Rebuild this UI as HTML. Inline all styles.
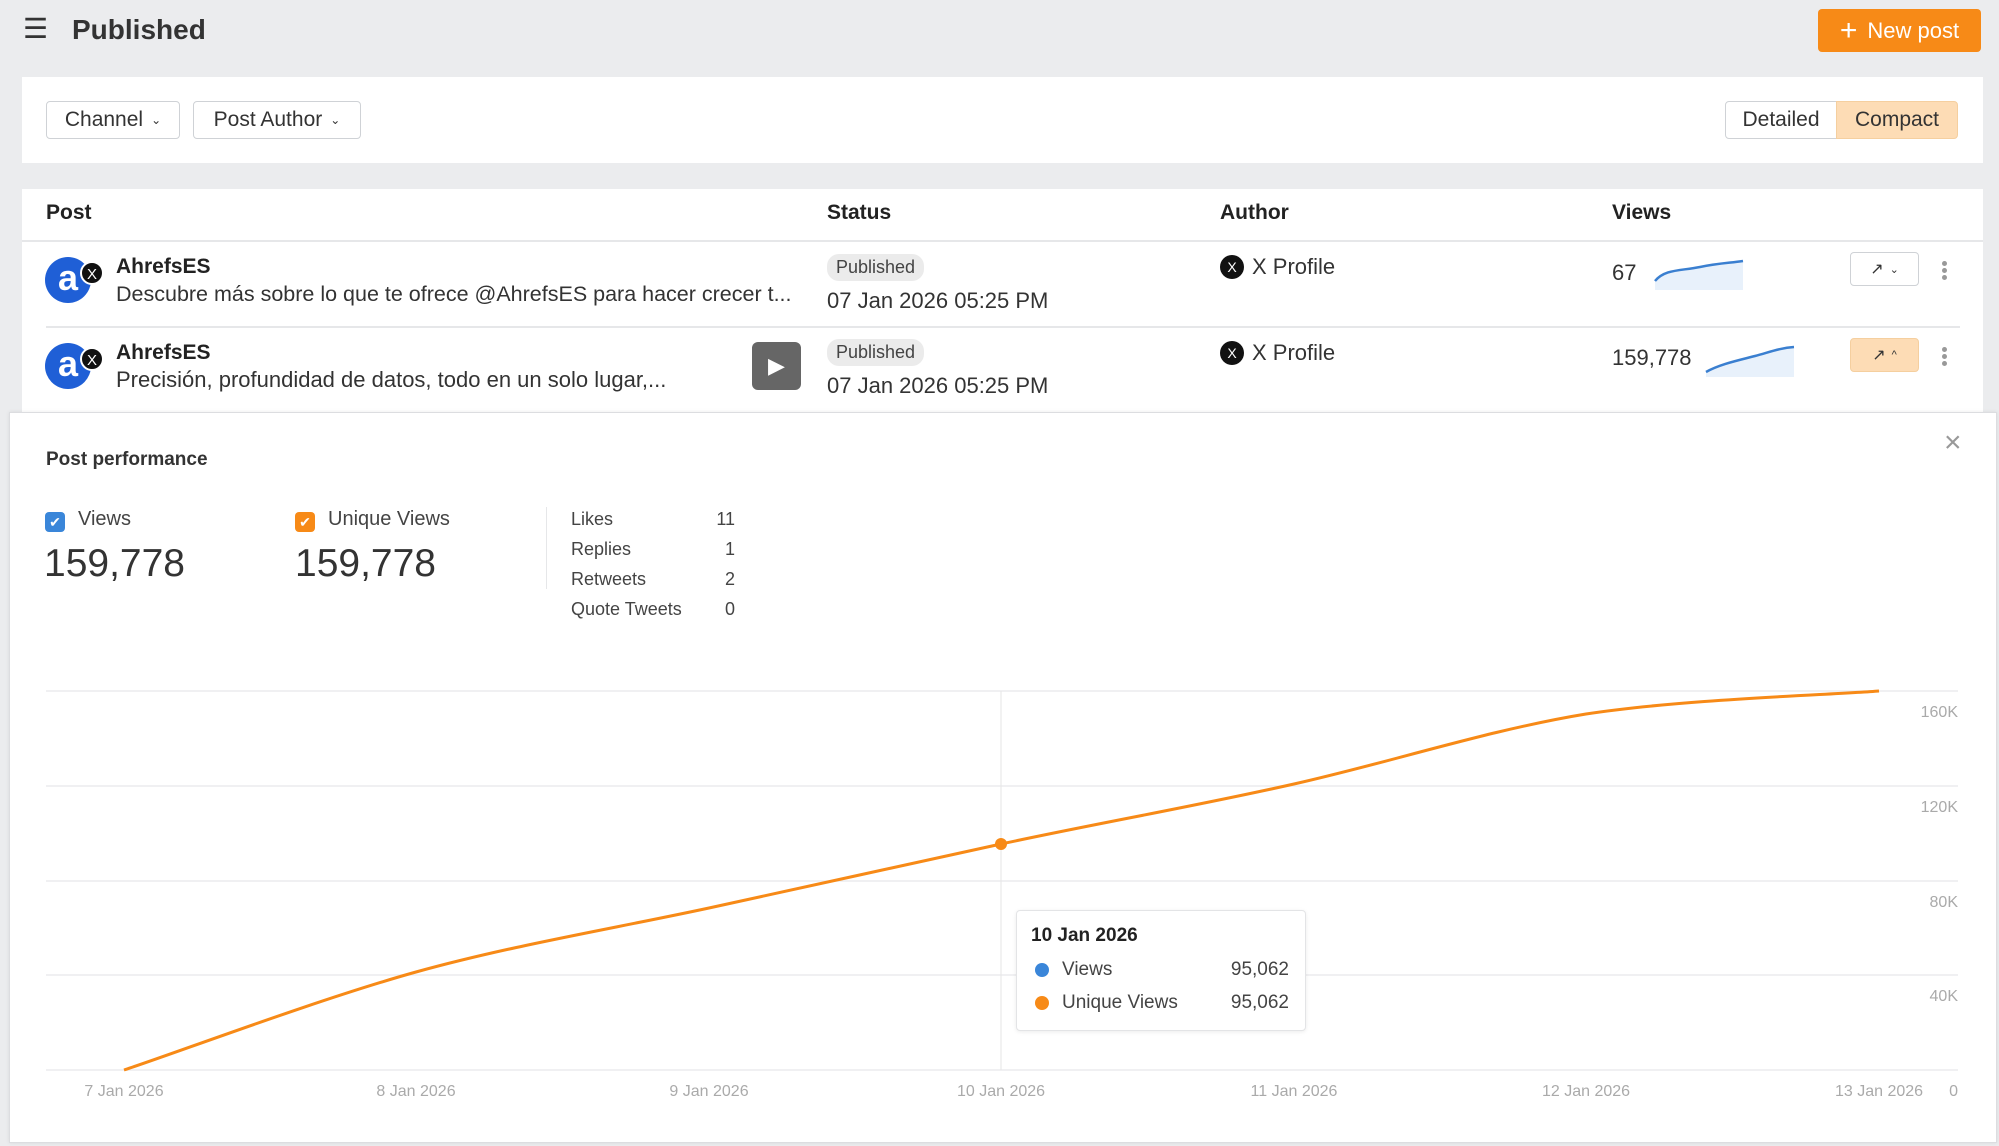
<!DOCTYPE html>
<html><head><meta charset="utf-8"><style>
*{margin:0;padding:0;box-sizing:border-box}
body{width:1999px;height:1146px;background:#ebecee;font-family:"Liberation Sans",sans-serif;color:#222;position:relative;overflow:hidden}
.a{position:absolute;white-space:nowrap}
.btn{position:absolute;border:1px solid #cfd2d6;border-radius:4px;background:#fff;font-size:21px;color:#333;display:flex;align-items:center;justify-content:center}
.card{position:absolute;background:#fff}
.b{font-weight:bold}
.pill{position:absolute;background:#ebebeb;border-radius:12px;font-size:18px;color:#444;padding:3px 9px}
.av{position:absolute;width:46px;height:46px;border-radius:50%;background:#1f5fd6;color:#fff;font-weight:bold;font-size:36px;text-align:center;line-height:42px}
.xb{position:absolute;width:24px;height:24px;border-radius:50%;background:#111;color:#fff;font-size:15px;text-align:center;line-height:24px;border:2px solid #fff}
.xi{position:absolute;width:24px;height:24px;border-radius:50%;background:#111;color:#fff;font-size:14px;text-align:center;line-height:24px}
.t{font-size:22px;color:#333}
.yl{position:absolute;right:41px;font-size:16px;color:#aaa}
.xl{position:absolute;font-size:16px;color:#aaa;transform:translateX(-50%)}
.kb{position:absolute;width:5px;height:5px;border-radius:50%;background:#999}
</style></head><body>
<div class="a" style="left:23px;top:12px;font-size:28px;color:#333">☰</div>
<div class="a b" style="left:72px;top:14px;font-size:28px;color:#333">Published</div>
<div class="a" style="left:1818px;top:9px;width:163px;height:43px;background:#f78a17;border-radius:4px;color:#fff;font-size:22px;display:flex;align-items:center;justify-content:center"><span style="font-size:30px;margin-right:10px;line-height:1">+</span>New post</div>

<div class="card" style="left:22px;top:77px;width:1961px;height:86px"></div>
<div class="btn" style="left:46px;top:101px;width:134px;height:38px">Channel <span style="font-size:12px;margin-left:8px">⌄</span></div>
<div class="btn" style="left:193px;top:101px;width:168px;height:38px">Post Author <span style="font-size:12px;margin-left:8px">⌄</span></div>
<div class="btn" style="left:1725px;top:101px;width:112px;height:38px;border-radius:4px 0 0 4px">Detailed</div>
<div class="btn" style="left:1836px;top:101px;width:122px;height:38px;border-radius:0 4px 4px 0;background:#fddcb5;border-color:#f5cf9f">Compact</div>

<div class="card" style="left:22px;top:189px;width:1961px;height:225px"></div>
<div class="a b" style="left:46px;top:201px;font-size:21px">Post</div>
<div class="a b" style="left:827px;top:201px;font-size:21px">Status</div>
<div class="a b" style="left:1220px;top:201px;font-size:21px">Author</div>
<div class="a b" style="left:1612px;top:201px;font-size:21px">Views</div>
<div class="a" style="left:22px;top:240px;width:1961px;height:2px;background:#e6e7e9"></div>
<div class="a" style="left:46px;top:326px;width:1914px;height:2px;background:#e6e7e9"></div>

<div class="av" style="left:45px;top:257px">a</div><div class="xb" style="left:80px;top:261px">X</div>
<div class="a b" style="left:116px;top:255px;font-size:21px">AhrefsES</div>
<div class="a t" style="left:116px;top:282px;font-size:21.5px">Descubre más sobre lo que te ofrece @AhrefsES para hacer crecer t...</div>
<div class="pill" style="left:827px;top:254px">Published</div>
<div class="a t" style="left:827px;top:288px">07 Jan 2026 05:25 PM</div>
<div class="xi" style="left:1220px;top:255px">X</div>
<div class="a t" style="left:1252px;top:254px">X Profile</div>
<div class="a t" style="left:1612px;top:260px">67</div>
<svg class="a" style="left:1650px;top:255px" width="100" height="35"><path d="M5 26 C15 14,30 16,50 12 S80 8,93 6 L93 35 L5 35Z" fill="#e8f1fb"/><path d="M5 26 C15 14,30 16,50 12 S80 8,93 6" fill="none" stroke="#3a7fd0" stroke-width="2.5"/></svg>
<div class="btn" style="left:1850px;top:252px;width:69px;height:34px;font-size:16px">↗ <span style="font-size:11px;margin-left:6px">⌄</span></div>
<div class="kb" style="left:1942px;top:261px"></div><div class="kb" style="left:1942px;top:268px"></div><div class="kb" style="left:1942px;top:275px"></div>

<div class="av" style="left:45px;top:343px">a</div><div class="xb" style="left:80px;top:347px">X</div>
<div class="a b" style="left:116px;top:341px;font-size:21px">AhrefsES</div>
<div class="a t" style="left:116px;top:367px">Precisión, profundidad de datos, todo en un solo lugar,...</div>
<div class="a" style="left:752px;top:342px;width:49px;height:48px;background:#666;border-radius:6px;color:#fff;font-size:22px;text-align:center;line-height:48px">▶</div>
<div class="pill" style="left:827px;top:339px">Published</div>
<div class="a t" style="left:827px;top:373px">07 Jan 2026 05:25 PM</div>
<div class="xi" style="left:1220px;top:341px">X</div>
<div class="a t" style="left:1252px;top:340px">X Profile</div>
<div class="a t" style="left:1612px;top:345px">159,778</div>
<svg class="a" style="left:1700px;top:342px" width="100" height="35"><path d="M6 30 C20 22,40 18,55 14 S80 6,94 5 L94 35 L6 35Z" fill="#e8f1fb"/><path d="M6 30 C20 22,40 18,55 14 S80 6,94 5" fill="none" stroke="#3a7fd0" stroke-width="2.5"/></svg>
<div class="btn" style="left:1850px;top:338px;width:69px;height:34px;font-size:16px;background:#fddcb5;border-color:#f5cf9f">↗ <span style="font-size:11px;margin-left:6px">^</span></div>
<div class="kb" style="left:1942px;top:347px"></div><div class="kb" style="left:1942px;top:354px"></div><div class="kb" style="left:1942px;top:361px"></div>

<div class="card" style="left:9px;top:412px;width:1988px;height:731px;border:1px solid #dcdde0;box-shadow:0 0 4px rgba(0,0,0,.08)"></div>
<div class="a b" style="left:46px;top:449px;font-size:19px;color:#333">Post performance</div>
<div class="a" style="left:1944px;top:426px;font-size:30px;color:#999">×</div>
<div class="a" style="left:45px;top:512px;width:20px;height:20px;background:#3a86d9;border-radius:4px;color:#fff;font-size:14px;text-align:center;line-height:20px">✔</div>
<div class="a" style="left:78px;top:508px;font-size:20px;color:#444">Views</div>
<div class="a" style="left:44px;top:542px;font-size:39px;color:#333">159,778</div>
<div class="a" style="left:295px;top:512px;width:20px;height:20px;background:#f78a17;border-radius:4px;color:#fff;font-size:14px;text-align:center;line-height:20px">✔</div>
<div class="a" style="left:328px;top:508px;font-size:20px;color:#444">Unique Views</div>
<div class="a" style="left:295px;top:542px;font-size:39px;color:#333">159,778</div>
<div class="a" style="left:546px;top:507px;width:1px;height:82px;background:#e6e7e9"></div>
<div class="a" style="left:571px;top:504px;font-size:18px;color:#444;line-height:30px">Likes<br>Replies<br>Retweets<br>Quote Tweets</div>
<div class="a" style="left:700px;top:504px;width:35px;text-align:right;font-size:18px;color:#444;line-height:30px">11<br>1<br>2<br>0</div>

<svg class="a" style="left:0;top:0" width="1999" height="1146">
<g stroke="#ebecee" stroke-width="1.5">
<line x1="46" y1="691" x2="1958" y2="691"/><line x1="46" y1="786" x2="1958" y2="786"/><line x1="46" y1="881" x2="1958" y2="881"/><line x1="46" y1="975" x2="1958" y2="975"/><line x1="46" y1="1070" x2="1958" y2="1070"/></g>
<line x1="1001" y1="691" x2="1001" y2="1070" stroke="#e6e6e6" stroke-width="1"/>
<path d="M124 1070 C173 1054,319 999,416 972 C513.5 945,611.5 929,709 908 C806.5 887,903.5 865,1001 844 C1098.5 823,1196.5 806,1294 784 C1391.5 762,1488.5 730,1586 714 C1683.5 699,1830 695,1879 691" fill="none" stroke="#f78a17" stroke-width="3"/>
<circle cx="1001" cy="844" r="6" fill="#f78a17"/>
</svg>
<div class="yl" style="top:704px">160K</div><div class="yl" style="top:799px">120K</div><div class="yl" style="top:894px">80K</div><div class="yl" style="top:988px">40K</div><div class="yl" style="top:1083px">0</div>
<div class="xl" style="left:124px;top:1083px">7 Jan 2026</div><div class="xl" style="left:416px;top:1083px">8 Jan 2026</div><div class="xl" style="left:709px;top:1083px">9 Jan 2026</div><div class="xl" style="left:1001px;top:1083px">10 Jan 2026</div><div class="xl" style="left:1294px;top:1083px">11 Jan 2026</div><div class="xl" style="left:1586px;top:1083px">12 Jan 2026</div><div class="xl" style="left:1879px;top:1083px">13 Jan 2026</div>

<div class="a" style="left:1016px;top:910px;width:290px;height:121px;background:#fff;border:1px solid #e3e4e6;border-radius:4px;box-shadow:0 1px 4px rgba(0,0,0,.08)"></div>
<div class="a b" style="left:1031px;top:925px;font-size:19px">10 Jan 2026</div>
<div class="a" style="left:1035px;top:963px;width:14px;height:14px;border-radius:50%;background:#3a86d9"></div>
<div class="a" style="left:1062px;top:959px;font-size:19px;color:#444">Views</div>
<div class="a" style="left:1200px;top:959px;width:89px;text-align:right;font-size:19px;color:#444">95,062</div>
<div class="a" style="left:1035px;top:996px;width:14px;height:14px;border-radius:50%;background:#f78a17"></div>
<div class="a" style="left:1062px;top:992px;font-size:19px;color:#444">Unique Views</div>
<div class="a" style="left:1200px;top:992px;width:89px;text-align:right;font-size:19px;color:#444">95,062</div>
</body></html>
